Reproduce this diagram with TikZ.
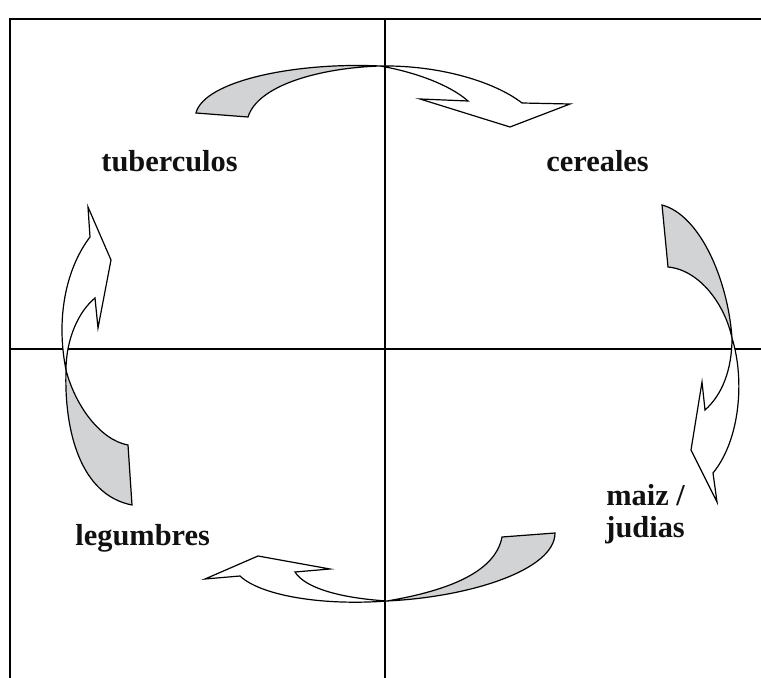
\documentclass[tikz,border=0pt]{standalone}
\usepackage{fontspec}
\setmainfont{Liberation Serif}
\usepackage{tikz}
\usetikzlibrary{positioning}
\usepackage{xcolor}
\definecolor{Shade}{HTML}{D2D3D5}
\definecolor{Ink}{HTML}{111111}

\begin{document}
\begin{tikzpicture}[x=0.5pt,y=-0.5pt,
  every node/.style={font=\fontsize{15.2}{17}\selectfont\bfseries,text=Ink,inner sep=0pt},
  axis/.style={draw=black,line width=0.7pt},
  ribbon/.style={draw=black,line width=0.6pt},
  back/.style={ribbon,fill=Shade},
  front/.style={ribbon,fill=white}]
  \useasboundingbox (0,0) rectangle (761,678);
  \draw[axis] (761,19) -- (10,19) -- (10,678);
  \draw[axis] (385,19) -- (385,678);
  \draw[axis] (10,349) -- (761,349);
  % top
  \draw[back] (196,113) .. controls (204,81) and (295,62) .. (380,66)
    .. controls (320,68) and (258,85) .. (248,117) -- cycle;
  \draw[front] (380,66) .. controls (440,65) and (495,82) .. (522,103)
    -- (570,104) -- (510,127) -- (420,99) -- (468,101)
    .. controls (450,85) and (415,72) .. (380,66);
  % right
  \draw[back] (662,205) .. controls (700,215) and (728,280) .. (732,338)
    .. controls (725,305) and (700,270) .. (668,267) -- cycle;
  \draw[front] (732,338) .. controls (745,380) and (740,440) .. (713,473)
    -- (717,502) -- (691,450) -- (702,382) -- (705,410)
    .. controls (722,395) and (732,370) .. (732,338);
  % bottom
  \draw[back] (555,533) .. controls (555,570) and (470,597) .. (387,601)
    .. controls (440,592) and (495,575) .. (502,537) -- cycle;
  \draw[front] (387,601) .. controls (320,606) and (260,595) .. (240,576)
    -- (205,579) -- (258,556) -- (330,569) -- (295,572)
    .. controls (305,588) and (340,598) .. (387,601);
  % left
  \draw[back] (132,505) .. controls (80,495) and (64,430) .. (66,370)
    .. controls (75,405) and (100,440) .. (128,445) -- cycle;
  \draw[front] (66,370) .. controls (56,320) and (65,270) .. (90,237)
    -- (88,207) -- (111,260) -- (98,328) -- (95,298)
    .. controls (78,312) and (66,340) .. (66,370);
  \node[anchor=base west] (tuberculos) at (101,172) {tuberculos};
  \node[anchor=base west] (cereales) at (546,172) {cereales};
  \node[anchor=base west] (maiz) at (606,506) {maiz /};
  \node[anchor=base west] (judias) at (605,538) {judias};
  \node[anchor=base west] (legumbres) at (75,546) {legumbres};
\end{tikzpicture}
\end{document}
